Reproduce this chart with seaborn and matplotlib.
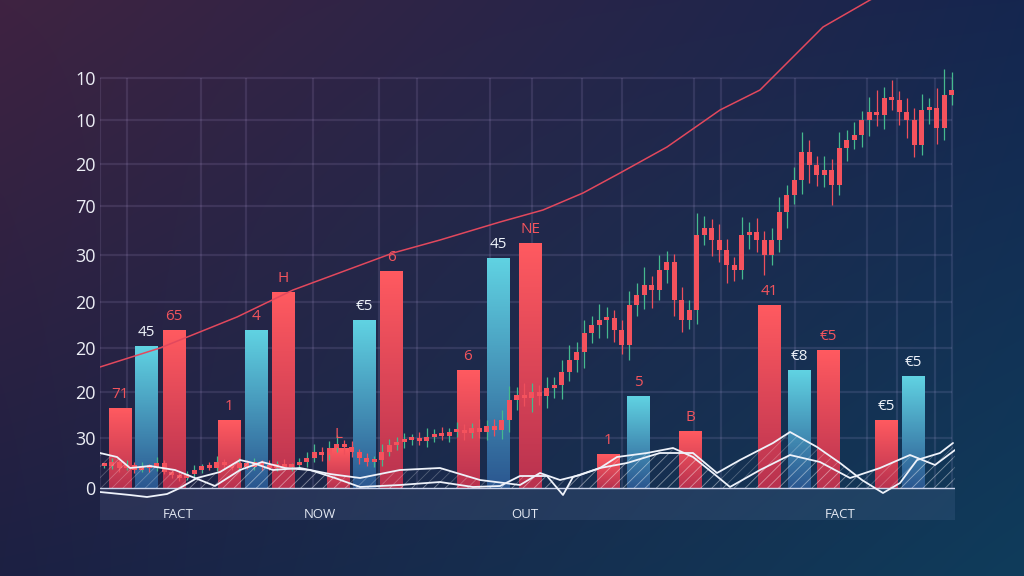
import numpy as np
import pandas as pd
import matplotlib
matplotlib.use('Agg')
import matplotlib.pyplot as plt
from matplotlib.colors import LinearSegmentedColormap, to_rgb
import seaborn as sns

# --- данные ---
# ось Y: позиции линий сетки и подписи (подписи на оригинале не по порядку)
grid_y = [0, 50, 96, 140, 186, 233, 282, 324, 368, 410]
ytick_labels = ['0', '30', '20', '20', '20', '30', '70', '20', '10', '10']
grid_x = [0, 27, 101, 146, 213, 279, 317, 390, 432, 482, 522, 594, 621, 695,
          767, 797, 835, 852]

# столбцы
bar_x = [20, 46, 74, 129, 156, 183, 238, 264, 291, 368, 398, 430, 508, 538,
         590, 669, 699, 728, 786, 813]
bar_h = [80, 142, 158, 68, 158, 196, 40, 168, 217, 118, 230, 245, 34, 92,
         57, 183, 118, 138, 68, 112]
bar_kind = ['red', 'blue', 'red', 'red', 'blue', 'red', 'red', 'blue', 'red',
            'red', 'blue', 'red', 'red', 'blue', 'red', 'red', 'blue', 'red',
            'red', 'blue']
bar_labels = ['71', '45', '65', '1', '4', 'H', 'L', '€5', '6', '6', '45', 'NE',
              '1', '5', 'B', '41', '€8', '€5', '€5', '€5']
label_white = [False, True, False, False, False, False, False, True, False,
               False, True, False, False, False, False, False, True, False,
               True, True]

# свечи: цены закрытия и длины теней
candle_close = [22, 26, 20, 23, 18, 22, 20, 25, 16, 13,
                10, 14, 18, 22, 20, 26, 23, 20, 25, 21,
                26, 22, 20, 24, 21, 23, 26, 30, 36, 33,
                40, 44, 41, 36, 30, 26, 28, 36, 43, 46,
                48, 50, 47, 51, 54, 52, 56, 58, 55, 60,
                56, 62, 58, 68, 88, 93, 90, 96, 92, 100,
                103, 116, 128, 136, 155, 163, 168, 170, 158, 143,
                183, 193, 203, 198, 218, 226, 188, 168, 178, 253,
                260, 248, 238, 223, 218, 253, 256, 248, 233, 248,
                276, 293, 308, 336, 323, 313, 318, 303, 340, 348,
                353, 368, 376, 373, 390, 388, 376, 368, 343, 378,
                380, 360, 393, 398]
wick_hi = [3, 4, 2, 5, 3, 4, 2, 6, 3, 2,
           4, 3, 5, 2, 4, 6, 3, 2, 5, 3,
           4, 2, 6, 3, 5, 2, 4, 6, 8, 5,
           7, 9, 4, 6, 3, 5, 4, 8, 6, 5,
           7, 4, 6, 9, 5, 7, 4, 8, 6, 5,
           9, 6, 7, 10, 14, 8, 12, 9, 7, 11,
           8, 12, 15, 10, 13, 9, 16, 11, 8, 10,
           14, 12, 18, 9, 15, 11, 8, 13, 10, 22,
           12, 9, 16, 11, 8, 18, 10, 14, 9, 12,
           15, 10, 13, 20, 12, 9, 14, 11, 16, 10,
           13, 9, 15, 22, 11, 18, 9, 14, 12, 16,
           10, 20, 26, 18]
wick_lo = [2, 3, 4, 2, 3, 2, 4, 3, 2, 3,
           3, 2, 4, 3, 2, 3, 4, 2, 3, 2,
           3, 4, 2, 3, 2, 4, 3, 5, 4, 6,
           5, 4, 7, 5, 6, 4, 5, 6, 4, 5,
           6, 5, 4, 6, 5, 4, 6, 5, 7, 5,
           6, 8, 6, 9, 12, 10, 8, 14, 9, 12,
           10, 14, 9, 12, 16, 10, 13, 18, 12, 9,
           15, 11, 14, 18, 10, 13, 16, 12, 9, 14,
           10, 16, 12, 18, 11, 9, 14, 12, 20, 10,
           12, 16, 9, 14, 18, 11, 12, 20, 10, 13,
           9, 12, 16, 11, 14, 10, 13, 18, 12, 10,
           14, 16, 12, 10]

# красная линия тренда
trend_x = [0, 60, 137, 193, 293, 340, 400, 443, 483, 520, 567, 620, 660,
           700, 723, 770, 800]
trend_y = [121, 140, 171, 198, 235, 248, 266, 278, 295, 315, 341, 378, 398,
           438, 461, 488, 503]

# белые волнистые линии у основания
wave1_x = [0, 17, 30, 50, 75, 95, 115, 140, 162, 185, 210, 235, 260, 300, 340,
           373, 400, 420, 447, 463, 473, 500, 527, 560, 593, 617, 640, 673,
           690, 717, 740, 762, 783, 800, 817, 840, 853]
wave1_y = [35, 31, 20, 22, 18, 10, 2, 18, 26, 20, 18, 10, 1, 3, 6, 1, 2, 12,
           12, -7, 11, 20, 25, 35, 35, 15, 28, 45, 56, 41, 25, 8, -5, 5, 28,
           35, 45]
wave2_x = [0, 30, 47, 67, 80, 97, 120, 140, 153, 173, 200, 230, 260, 300, 340,
           380, 420, 440, 460, 480, 500, 517, 547, 573, 593, 613, 630, 660,
           690, 720, 750, 780, 810, 835, 855]
wave2_y = [-4, -7, -9, -6, 0, 10, 16, 28, 25, 18, 20, 14, 10, 18, 20, 8, 3,
           15, 8, 13, 20, 31, 35, 40, 31, 15, 1, 18, 33, 26, 10, 20, 33, 23, 38]

# подписи в нижней полосе
band_labels = ['FACT', 'NOW', 'OUT', 'FACT']
band_x = [78, 220, 425, 740]

RED_CMAP = LinearSegmentedColormap.from_list('r', ['#b9324f', '#ff5a60'])
BLUE_CMAP = LinearSegmentedColormap.from_list('b', ['#2b5790', '#60d2e2'])


def draw_background(fig):
    # градиент фона: фиолетовый слева сверху, бирюзовый справа снизу
    bg = fig.add_axes([0, 0, 1, 1])
    tl, tr = np.array(to_rgb('#3f2341')), np.array(to_rgb('#15264f'))
    bl, br = np.array(to_rgb('#1c2043')), np.array(to_rgb('#0f3c5b'))
    u = np.linspace(0, 1, 256)[None, :, None]
    v = np.linspace(0, 1, 144)[:, None, None]
    img = (1 - v) * ((1 - u) * tl + u * tr) + v * ((1 - u) * bl + u * br)
    bg.imshow(np.clip(img, 0, 1), aspect='auto', interpolation='bicubic')
    bg.axis('off')


def gradient_bars(ax, bars, kinds):
    grad = np.linspace(0, 1, 100).reshape(-1, 1)
    for patch, kind in zip(bars, kinds):
        x0, y0 = patch.get_x(), patch.get_y()
        w, h = patch.get_width(), patch.get_height()
        cmap = RED_CMAP if kind == 'red' else BLUE_CMAP
        im = ax.imshow(grad, extent=[x0, x0 + w, y0, y0 + h], origin='lower',
                       aspect='auto', cmap=cmap, zorder=3)
        im.set_clip_path(patch)
        patch.set_facecolor('none')
        patch.set_edgecolor('none')


def draw_candles(ax):
    close = np.array(candle_close, dtype=float)
    opens = np.r_[close[0], close[:-1]]
    cx = 4 + 7.5 * np.arange(len(close))
    top = np.maximum(opens, close)
    bot = np.minimum(opens, close)
    up = close >= opens
    wick_colors = np.where(up, '#45b98e', '#ee4f5c')
    ax.vlines(cx, bot - np.array(wick_lo), top + np.array(wick_hi),
              colors=wick_colors, lw=0.9, zorder=4)
    body = np.maximum(top - bot, 3)
    ax.bar(cx, body, bottom=bot, width=5, color='#f4525d', lw=0, zorder=4)


def plot_chart():
    sns.set_theme(style='white')
    plt.rcParams['font.family'] = ['Open Sans', 'DejaVu Sans']
    plt.rcParams['hatch.linewidth'] = 0.6
    fig = plt.figure(figsize=(10.24, 5.76), dpi=100)
    draw_background(fig)

    ax = fig.add_axes([100 / 1024, 56 / 576, 855 / 1024, 520 / 576])
    ax.set_facecolor('none')

    # столбцы
    df = pd.DataFrame({'x': bar_x, 'h': bar_h})
    sns.barplot(data=df, x='x', y='h', native_scale=True, width=23 / 26,
                color='#ff5a60', ax=ax, zorder=3)
    bars = list(ax.patches)
    gradient_bars(ax, bars, bar_kind)
    for x, h, txt, white in zip(bar_x, bar_h, bar_labels, label_white):
        ax.annotate(txt, (x, h), xytext=(0, 10), textcoords='offset points',
                    ha='center', va='center', fontsize=11, fontweight='medium',
                    color='#eef3fa' if white else '#f2545d', zorder=6)

    # сетка
    grid_col = (0.8, 0.72, 0.95, 0.12)
    ax.hlines(grid_y[1:], 0, grid_x[-1], colors=[grid_col], lw=1.6, zorder=1)
    ax.vlines(grid_x, 0, grid_y[-1], colors=[grid_col], lw=1.6, zorder=1)

    # нижняя полоса с подписями
    ax.axhspan(-32, 0, color='#8aa0d0', alpha=0.12, lw=0, zorder=1)
    ax.axhline(0, color='#c9d2ea', lw=1.0, zorder=5)
    for x, txt in zip(band_x, band_labels):
        ax.text(x, -27, txt, ha='center', va='center', fontsize=9.5,
                color='#e3e8f2', zorder=6)

    draw_candles(ax)

    # белые волны со штриховкой
    for wx, wy in [(wave1_x, wave1_y), (wave2_x, wave2_y)]:
        wy_arr = np.array(wy, dtype=float)
        ax.fill_between(wx, 0, wy_arr, where=wy_arr > 0, interpolate=True,
                        facecolor='none', hatch='///',
                        edgecolor=(1, 1, 1, 0.25), lw=0, zorder=5)
        sns.lineplot(x=wx, y=wy, sort=False, estimator=None, color='#eef2fa',
                     lw=1.3, ax=ax, zorder=6)

    # линия тренда
    sns.lineplot(x=trend_x, y=trend_y, sort=False, estimator=None,
                 color='#e2485d', lw=1.1, ax=ax, zorder=7)

    ax.set_xlim(0, 855)
    ax.set_ylim(-32, 488)
    ax.set_xticks([])
    ax.set_yticks(grid_y)
    ax.set_yticklabels(ytick_labels, fontsize=13, color='#eceef5')
    ax.tick_params(axis='y', length=0, pad=3)
    ax.set_xlabel('')
    ax.set_ylabel('')
    for s in ax.spines.values():
        s.set_visible(False)

    fig.savefig('out.png', dpi=100)


if __name__ == "__main__":
    plot_chart()
